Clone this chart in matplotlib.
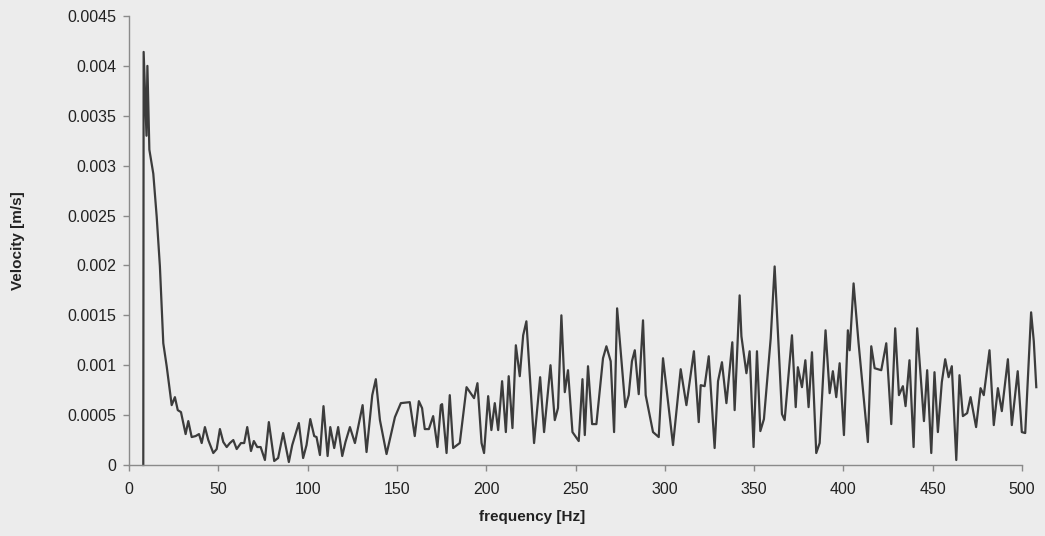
import matplotlib
matplotlib.use("Agg")
import matplotlib.pyplot as plt

# vertices of the spectrum trace (Hz, m/s)
freq = [
    8.0, 8.2, 9.8, 10.3, 11.4, 13.6, 15.5, 17.3, 19.2, 21.1,
    23.9, 25.7, 27.3, 29.1, 31.7, 33.2, 35.1, 37.3, 39.2, 40.7,
    42.5, 44.4, 47.2, 49.1, 50.9, 52.8, 54.7, 56.5, 58.4, 60.3,
    62.7, 64.5, 66.2, 68.3, 69.9, 71.8, 73.7, 76.1, 78.3, 81.3,
    83.5, 86.3, 89.5, 91.4, 95.1, 97.5, 99.4, 101.5, 103.7, 105.0,
    106.9, 108.9, 111.2, 112.7, 114.9, 117.1, 119.4, 121.2, 123.7, 126.5,
    130.8, 133.0, 136.2, 138.2, 140.5, 144.2, 148.9, 152.2, 157.2, 160.0,
    162.3, 164.1, 165.6, 167.9, 170.3, 172.7, 174.6, 175.3, 177.8, 179.6,
    181.5, 185.2, 189.0, 193.2, 195.1, 197.4, 198.8, 201.1, 202.9, 204.8,
    206.7, 208.9, 211.0, 212.6, 214.7, 216.6, 218.8, 220.7, 222.5, 226.8,
    230.2, 232.4, 236.0, 238.4, 240.2, 242.1, 244.0, 245.8, 248.3, 251.8,
    253.9, 255.2, 257.0, 259.3, 261.7, 265.4, 267.3, 269.7, 271.6, 273.3,
    277.9, 279.8, 281.6, 283.2, 285.4, 287.8, 289.3, 293.4, 296.6, 299.0,
    304.6, 308.9, 312.1, 316.3, 319.0, 320.1, 322.3, 324.6, 327.9, 329.8,
    332.0, 334.5, 337.8, 339.1, 341.9, 342.9, 345.7, 347.5, 349.7, 351.6,
    353.5, 355.5, 359.3, 361.5, 365.6, 367.1, 371.2, 373.3, 374.5, 376.8,
    378.7, 380.5, 382.4, 384.8, 386.7, 390.0, 392.3, 394.1, 396.0, 397.9,
    400.3, 402.5, 403.5, 405.7, 408.5, 413.7, 415.6, 417.5, 421.2, 424.0,
    426.8, 429.0, 431.1, 433.3, 434.8, 437.0, 439.3, 441.3, 445.1, 446.9,
    449.2, 451.0, 452.9, 455.1, 457.0, 458.9, 460.7, 463.2, 465.0, 466.9,
    469.3, 471.2, 474.3, 476.8, 478.6, 481.8, 484.2, 486.5, 488.7, 492.1,
    494.3, 497.6, 499.9, 501.8, 505.1, 506.6, 508.0,
]
velocity = [
    0.0, 0.00414, 0.0033, 0.0040, 0.00316, 0.00292, 0.00249, 0.00199, 0.00122, 0.00099,
    0.00060, 0.00068, 0.00055, 0.00053, 0.00031, 0.00044, 0.00028, 0.00029, 0.00031, 0.00022,
    0.00038, 0.00025, 0.00012, 0.00016, 0.00036, 0.00023, 0.00018, 0.00022, 0.00025, 0.00016,
    0.00022, 0.00022, 0.00038, 0.00014, 0.00024, 0.00018, 0.00018, 0.00005, 0.00043, 0.00004,
    0.00007, 0.00032, 0.00003, 0.00020, 0.00042, 0.00007, 0.00020, 0.00046, 0.00029, 0.00028,
    0.00010, 0.00059, 0.00009, 0.00038, 0.00017, 0.00038, 0.00009, 0.00023, 0.00038, 0.00022,
    0.00060, 0.00013, 0.00070, 0.00086, 0.00045, 0.00011, 0.00048, 0.00062, 0.00063, 0.00029,
    0.00064, 0.00057, 0.00036, 0.00036, 0.00049, 0.00018, 0.00060, 0.00061, 0.00012, 0.00070,
    0.00017, 0.00022, 0.00078, 0.00067, 0.00082, 0.00022, 0.00012, 0.00069, 0.00035, 0.00062,
    0.00035, 0.00084, 0.00033, 0.00089, 0.00037, 0.00120, 0.00089, 0.00130, 0.00144, 0.00022,
    0.00088, 0.00033, 0.00100, 0.00045, 0.00057, 0.00150, 0.00073, 0.00095, 0.00033, 0.00024,
    0.00086, 0.00030, 0.00099, 0.00041, 0.00041, 0.00107, 0.00119, 0.00104, 0.00033, 0.00157,
    0.00058, 0.00070, 0.00104, 0.00115, 0.00071, 0.00145, 0.00070, 0.00033, 0.00028, 0.00107,
    0.00020, 0.00096, 0.00060, 0.00114, 0.00043, 0.00080, 0.00079, 0.00109, 0.00017, 0.00084,
    0.00103, 0.00062, 0.00123, 0.00055, 0.00170, 0.00129, 0.00092, 0.00114, 0.00018, 0.00114,
    0.00034, 0.00046, 0.00127, 0.00199, 0.00051, 0.00045, 0.00130, 0.00058, 0.00098, 0.00078,
    0.00105, 0.00058, 0.00113, 0.00012, 0.00022, 0.00135, 0.00072, 0.00094, 0.00068, 0.00102,
    0.00030, 0.00135, 0.00115, 0.00182, 0.00122, 0.00023, 0.00119, 0.00097, 0.00095, 0.00122,
    0.00041, 0.00137, 0.00070, 0.00079, 0.00059, 0.00105, 0.00018, 0.00137, 0.00044, 0.00095,
    0.00012, 0.00093, 0.00033, 0.00083, 0.00106, 0.00088, 0.00099, 0.00005, 0.00090, 0.00049,
    0.00052, 0.00068, 0.00038, 0.00077, 0.00070, 0.00115, 0.00040, 0.00077, 0.00054, 0.00106,
    0.00040, 0.00094, 0.00033, 0.00032, 0.00153, 0.00124, 0.00078,
]

x_ticks = [0, 50, 100, 150, 200, 250, 300, 350, 400, 450, 500]
y_ticks = [0, 0.0005, 0.001, 0.0015, 0.002, 0.0025, 0.003, 0.0035, 0.004, 0.0045]
y_labels = ["0", "0.0005", "0.001", "0.0015", "0.002", "0.0025", "0.003", "0.0035", "0.004", "0.0045"]

plt.rcParams["font.family"] = ["Liberation Sans", "DejaVu Sans"]
bg = "#ececec"

fig = plt.figure(figsize=(10.45, 5.36), dpi=100, facecolor=bg)
ax = fig.add_axes([129 / 1045, 71 / 536, 893 / 1045, 449 / 536], facecolor=bg)

ax.plot(freq, velocity, color="#3c3c3c", linewidth=1.6, clip_on=False)

ax.set_xlim(0, 500)
ax.set_ylim(0, 0.0045)
ax.set_xticks(x_ticks)
ax.set_yticks(y_ticks)
ax.set_yticklabels(y_labels)

for side in ["top", "right"]:
    ax.spines[side].set_visible(False)
for side in ["left", "bottom"]:
    ax.spines[side].set_color("#8a8a8a")
    ax.spines[side].set_linewidth(1.0)
ax.tick_params(axis="both", colors="#8a8a8a", labelcolor="#222222", labelsize=11.5, length=4, width=1)
ax.tick_params(axis="x", pad=8)
ax.tick_params(axis="y", pad=5)

ax.set_xlabel("frequency [Hz]", fontsize=11, fontweight="bold", color="#222222")
ax.set_ylabel("Velocity [m/s]", fontsize=11, fontweight="bold", color="#222222")
ax.xaxis.set_label_coords((532 - 129) / 893, (465 - 510) / 449)
ax.yaxis.set_label_coords((25 - 129) / 893, 0.5)

fig.savefig("out.png", dpi=100, facecolor=bg)
